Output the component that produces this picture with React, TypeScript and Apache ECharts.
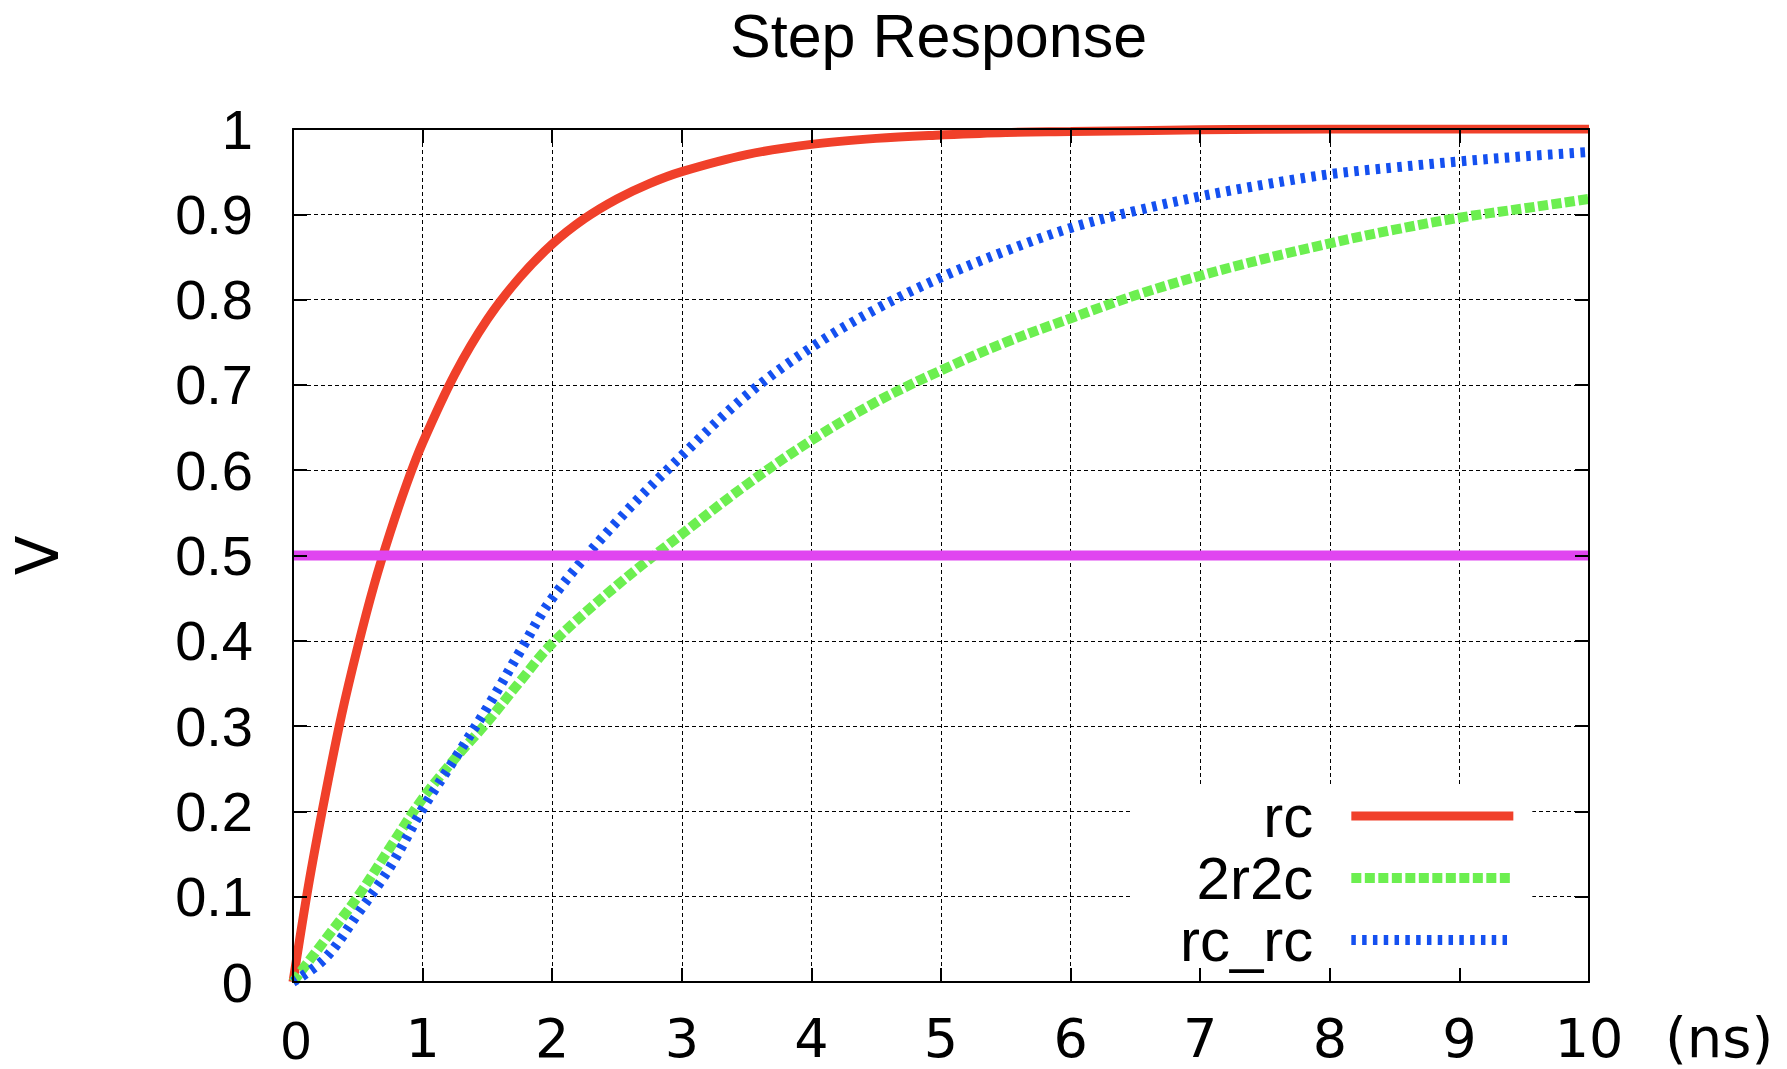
import React, { useEffect, useRef } from "react";
import * as echarts from "echarts";

// ---- data ----
const rcTimes = [0, 0.125, 0.25, 0.375, 0.5, 0.625, 0.75, 0.875, 1, 1.25, 1.5, 1.75, 2, 2.25, 2.5, 2.75, 3, 3.5, 4, 4.5, 5, 5.5, 6, 7, 8, 9, 10];
const rcValues = [0, 0.118, 0.22, 0.313, 0.393, 0.465, 0.527, 0.583, 0.632, 0.713, 0.777, 0.826, 0.865, 0.895, 0.918, 0.936, 0.95, 0.97, 0.982, 0.989, 0.993, 0.996, 0.997, 0.999, 1, 1, 1];

const curveTimes = [0, 0.25, 0.5, 0.75, 1, 1.25, 1.5, 1.75, 2, 2.5, 3, 3.5, 4, 4.5, 5, 5.5, 6, 6.5, 7, 7.5, 8, 8.5, 9, 9.5, 10];
const r2c2Values = [0, 0.05, 0.1, 0.158, 0.215, 0.262, 0.305, 0.352, 0.397, 0.465, 0.525, 0.583, 0.635, 0.68, 0.717, 0.75, 0.778, 0.805, 0.828, 0.848, 0.866, 0.882, 0.896, 0.907, 0.918];
const rcRcValues = [0, 0.028, 0.08, 0.135, 0.203, 0.262, 0.322, 0.387, 0.45, 0.54, 0.617, 0.688, 0.744, 0.789, 0.826, 0.857, 0.884, 0.904, 0.921, 0.935, 0.947, 0.955, 0.962, 0.968, 0.973];

const thresholdTimes = [0, 10];
const thresholdValues = [0.5, 0.5];

const seriesNames = ["rc", "2r2c", "rc_rc"];
const seriesColors = ["#f0402a", "#6cef50", "#1450f0"];

const titleText = "Step Response";
const xAxisName = "(ns)";
const yAxisName = "V";

const zip = (xs: number[], ys: number[]) => xs.map((x, i) => [x, ys[i]]);

export default function App() {
  const ref = useRef<HTMLDivElement>(null);

  useEffect(() => {
    if (!ref.current) return;
    const chart = echarts.init(ref.current, undefined, { renderer: "svg" });

    const gridRect = { left: 293, top: 129, width: 1296, height: 853 };
    const dashRc: any = "solid";
    const dash2r2c = [10, 3.5];
    const dashRcRc = [4.5, 6.3];
    const dashes = [dashRc, dash2r2c, dashRcRc];
    const widths = [9, 10, 10];

    const frameAxisLine = { show: true, onZero: false, lineStyle: { color: "#000", width: 2 } };
    const frameTick = { show: true, inside: true, length: 14, lineStyle: { color: "#000", width: 2 } };

    const option: any = {
      animation: false,
      backgroundColor: "#fff",
      title: {
        text: titleText,
        left: 730,
        top: 5,
        padding: 0,
        textStyle: { fontFamily: "Liberation Sans", fontSize: 61, fontWeight: "normal", color: "#000" },
      },
      legend: {
        orient: "vertical",
        left: 1133,
        top: 785,
        z: 4,
        backgroundColor: "#fff",
        padding: [0, 14, 11, 47],
        itemWidth: 162,
        itemHeight: 12,
        itemGap: 0,
        align: "right",
        selectedMode: false,
        textStyle: {
          fontFamily: "Liberation Sans",
          fontSize: 60,
          color: "#000",
          lineHeight: 62,
          padding: [0, 33, 0, 0],
        },
        itemStyle: { opacity: 0 },
        data: seriesNames.map((n, i) => ({
          name: n,
          itemStyle: { opacity: 0 },
          lineStyle: { color: seriesColors[i], width: widths[i], type: dashes[i], cap: "butt", opacity: 1 },
        })),
      },
      grid: [
        { ...gridRect, containLabel: false },
        { ...gridRect, containLabel: false },
      ],
      xAxis: [
        {
          type: "value",
          gridIndex: 0,
          min: 0,
          max: 10,
          interval: 1,
          position: "bottom",
          axisLine: { show: false, onZero: false },
          axisTick: { show: false },
          splitLine: { show: true, lineStyle: { color: "#000", width: 1, type: [4, 3] } },
          axisLabel: {
            margin: 31,
            fontFamily: "DejaVu Sans",
            fontSize: 54,
            lineHeight: 50,
            color: "#000",
            formatter: (v: number) => (v === 0 ? "{z|0}" : String(v)),
            rich: { z: { fontFamily: "Liberation Sans", fontSize: 54, lineHeight: 48, color: "#000", padding: [6, 0, 0, 6] } },
          },
          name: xAxisName,
          nameLocation: "end",
          nameGap: 76,
          nameTextStyle: {
            fontFamily: "DejaVu Sans",
            fontSize: 56,
            lineHeight: 52,
            color: "#000",
            verticalAlign: "top",
            padding: [29, 0, 0, 0],
          },
        },
        {
          type: "value", gridIndex: 1, min: 0, max: 10, interval: 1, position: "bottom", z: 10,
          axisLine: frameAxisLine, axisTick: frameTick, axisLabel: { show: false }, splitLine: { show: false },
        },
        {
          type: "value", gridIndex: 1, min: 0, max: 10, interval: 1, position: "top", z: 10,
          axisLine: frameAxisLine, axisTick: frameTick, axisLabel: { show: false }, splitLine: { show: false },
        },
      ],
      yAxis: [
        {
          type: "value",
          gridIndex: 0,
          min: 0,
          max: 1,
          interval: 0.1,
          position: "left",
          axisLine: { show: false, onZero: false },
          axisTick: { show: false },
          splitLine: { show: true, lineStyle: { color: "#000", width: 1, type: [4, 3] } },
          axisLabel: { margin: 40, fontFamily: "Liberation Sans", fontSize: 56, color: "#000" },
          name: yAxisName,
          nameLocation: "middle",
          nameGap: 226,
          nameTextStyle: { fontFamily: "DejaVu Sans", fontSize: 58, color: "#000", padding: [0, 0, 0, 0] },
        },
        {
          type: "value", gridIndex: 1, min: 0, max: 1, interval: 0.1, position: "left", z: 10,
          axisLine: frameAxisLine, axisTick: frameTick, axisLabel: { show: false }, splitLine: { show: false },
        },
        {
          type: "value", gridIndex: 1, min: 0, max: 1, interval: 0.1, position: "right", z: 10,
          axisLine: frameAxisLine, axisTick: frameTick, axisLabel: { show: false }, splitLine: { show: false },
        },
      ],
      series: [
        {
          name: seriesNames[0], type: "line", xAxisIndex: 0, yAxisIndex: 0, z: 2,
          data: zip(rcTimes, rcValues), symbol: "none", smooth: 0.35,
          lineStyle: { color: seriesColors[0], width: widths[0], type: dashes[0], cap: "butt" },
          itemStyle: { color: seriesColors[0] },
        },
        {
          name: seriesNames[1], type: "line", xAxisIndex: 0, yAxisIndex: 0, z: 2,
          data: zip(curveTimes, r2c2Values), symbol: "none", smooth: 0.35,
          lineStyle: { color: seriesColors[1], width: widths[1], type: dashes[1], cap: "butt" },
          itemStyle: { color: seriesColors[1] },
        },
        {
          name: seriesNames[2], type: "line", xAxisIndex: 0, yAxisIndex: 0, z: 2,
          data: zip(curveTimes, rcRcValues), symbol: "none", smooth: 0.35,
          lineStyle: { color: seriesColors[2], width: widths[2], type: dashes[2], cap: "butt" },
          itemStyle: { color: seriesColors[2] },
        },
        {
          name: "threshold", type: "line", xAxisIndex: 0, yAxisIndex: 0, z: 3,
          data: zip(thresholdTimes, thresholdValues), symbol: "none",
          lineStyle: { color: "#e045f0", width: 10, cap: "butt" },
          itemStyle: { color: "#e045f0" },
        },
      ],
    };

    chart.setOption(option);
    return () => chart.dispose();
  }, []);

  return (
    <div
      ref={ref}
      style={{ position: "fixed", left: 0, top: 0, width: 1787, height: 1069, background: "#fff" }}
    />
  );
}
